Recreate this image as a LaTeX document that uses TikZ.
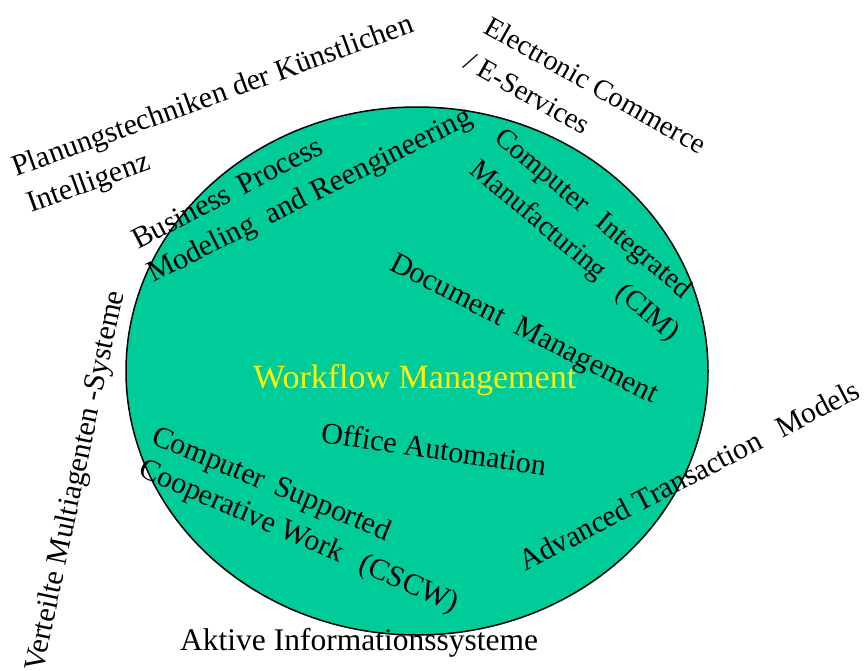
\documentclass[tikz,border=0pt]{standalone}
\usepackage{fontspec}
\setmainfont{Liberation Serif}
\definecolor{wfgreen}{HTML}{00CC99}
\begin{document}
\begin{tikzpicture}[x=1pt,y=-1pt]
\tikzset{
  lbl/.style={anchor=base west, inner sep=0pt, font=\fontsize{30}{36}\selectfont},
  small/.style={font=\fontsize{28.5}{34}\selectfont},
  disc/.style={draw=black, fill=wfgreen, line width=1.5pt}
}
\useasboundingbox (0,0) rectangle (865,670);
\path[disc] (417,371) ellipse [x radius=291, y radius=264];
\node[lbl, rotate=20] (plan1) at (16,177) {Planungstechniken der Künstlichen};
\node[lbl, rotate=20] (plan2) at (31,213) {Intelligenz};
\node[lbl, small, rotate=-29.5] (ec1) at (482,32) {Electronic Commerce};
\node[lbl, small, rotate=-29.5] (ec2) at (462,67) {/ E-Services};
\node[lbl, rotate=27.5] (bp1) at (138,250) {Business\hspace{12pt}Process};
\node[lbl, rotate=26.5] (bp2) at (153,283) {Modeling\hspace{14pt}and\hspace{9pt}Reengineering};
\node[lbl, small, rotate=-40] (cim1) at (493,140) {Computer\hspace{18pt}Integrated};
\node[lbl, small, rotate=-40] (cim2) at (468,172) {Manufacturing\hspace{22pt}(CIM)};
\node[lbl, rotate=-27] (dm) at (388,269) {Document\hspace{15pt}Management};
\node[lbl, text=yellow, font=\fontsize{34}{40}\selectfont] (wf) at (253,388) {Workflow Management};
\node[lbl, rotate=-8.5] (oa) at (320,442) {Office Automation};
\node[lbl, rotate=-22.5] (cs1) at (150,443) {Computer\hspace{12pt}Supported};
\node[lbl, rotate=-23.5] (cs2) at (137,475) {Cooperative Work\hspace{20pt}(CSCW)};
\node[lbl, rotate=78] (vm) at (43,673) {Verteilte Multiagenten -Systeme};
\node[lbl, font=\fontsize{31.5}{38}\selectfont] (ai) at (180,650) {Aktive Informationssysteme};
\node[lbl, rotate=27.5] (at) at (525,572) {Advanced Transaction\hspace{20pt}Models};
\end{tikzpicture}
\end{document}
